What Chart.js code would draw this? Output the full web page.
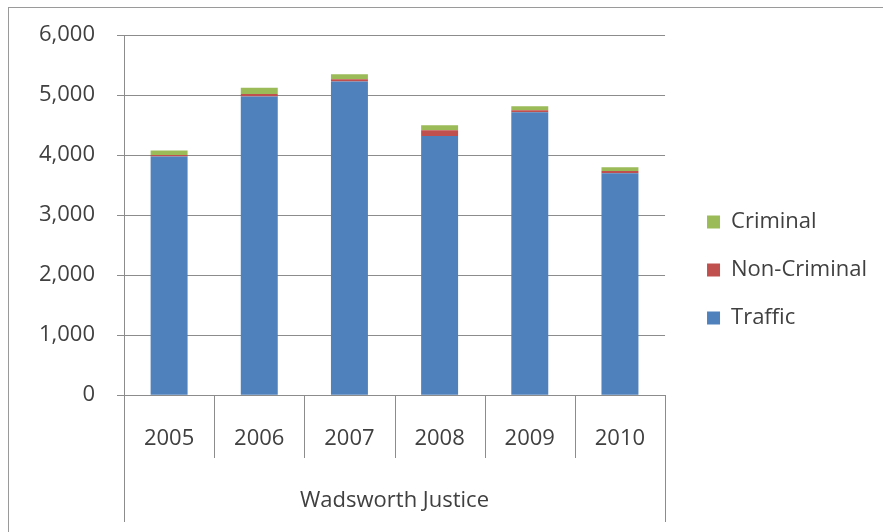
<!DOCTYPE html>
<html>
<head>
<meta charset="utf-8">
<script src="https://cdn.jsdelivr.net/npm/chart.js@4.4.0/dist/chart.umd.min.js"></script>
<style>
  html,body{margin:0;padding:0;background:#fff;}
  #wrap{position:relative;width:883px;height:532px;}
  #frame{position:absolute;left:8px;top:7px;width:900px;height:540px;border:1px solid #9a9a9a;pointer-events:none;}
</style>
</head>
<body>
<div id="wrap">
  <canvas id="chart" width="883" height="532"></canvas>
  <div id="frame"></div>
</div>
<script>
// values
const years=["2005","2006","2007","2008","2009","2010"];
const traffic=[3980,4980,5230,4320,4715,3700];
const nonCriminal=[25,40,35,95,35,35];
const criminal=[75,105,85,85,65,65];
const groupLabel="Wadsworth Justice";

const textColor="#404040";
const lineColor="#8c8c8c";

// multi-level category separators under the x axis
const separators={
  id:"separators",
  afterLayout(chart){
    // push the legend a bit away from the plot
    chart.legend.left+=16;
    chart.legend.right+=16;
  },
  afterDraw(chart){
    const x=chart.scales.x;
    const ctx=chart.ctx;
    const n=years.length;
    const step=x.width/n;
    ctx.save();
    ctx.strokeStyle=lineColor;
    ctx.lineWidth=1;
    for(let i=0;i<=n;i++){
      const px=Math.round(x.left+i*step)+0.5;
      const end=(i==0||i==n)?522:458;
      ctx.beginPath();
      ctx.moveTo(px,chart.chartArea.bottom);
      ctx.lineTo(px,end);
      ctx.stroke();
    }
    ctx.restore();
  }
};

const ctx=document.getElementById("chart").getContext("2d");
const myChart=new Chart(ctx,{
  type:"bar",
  data:{
    labels:years,
    datasets:[
      {label:"Traffic",data:traffic,backgroundColor:"#4f81bd"},
      {label:"Non-Criminal",data:nonCriminal,backgroundColor:"#c0504d"},
      {label:"Criminal",data:criminal,backgroundColor:"#9bbb59"}
    ]
  },
  options:{
    responsive:false,
    animation:false,
    layout:{padding:{left:17,top:24,right:22,bottom:16}},
    datasets:{bar:{barPercentage:0.41,categoryPercentage:1}},
    plugins:{
      legend:{
        position:"right",
        reverse:true,
        labels:{
          boxWidth:13,
          boxHeight:13,
          padding:26,
          color:textColor,
          font:{family:"Open Sans",size:22}
        }
      },
      tooltip:{enabled:false}
    },
    scales:{
      x:{
        stacked:true,
        grid:{display:false},
        border:{display:true,color:lineColor},
        ticks:{
          color:textColor,
          padding:22,
          font:{family:"Open Sans",size:22}
        },
        title:{
          display:true,
          text:groupLabel,
          color:textColor,
          padding:{top:14,bottom:2},
          font:{family:"Open Sans",size:22}
        }
      },
      y:{
        stacked:true,
        min:0,
        max:6000,
        ticks:{
          stepSize:1000,
          padding:22,
          color:textColor,
          font:{family:"Open Sans",size:22}
        },
        grid:{
          color:lineColor,
          tickColor:lineColor,
          tickLength:7
        },
        border:{display:true,color:lineColor}
      }
    }
  },
  plugins:[separators]
});
</script>
</body>
</html>
